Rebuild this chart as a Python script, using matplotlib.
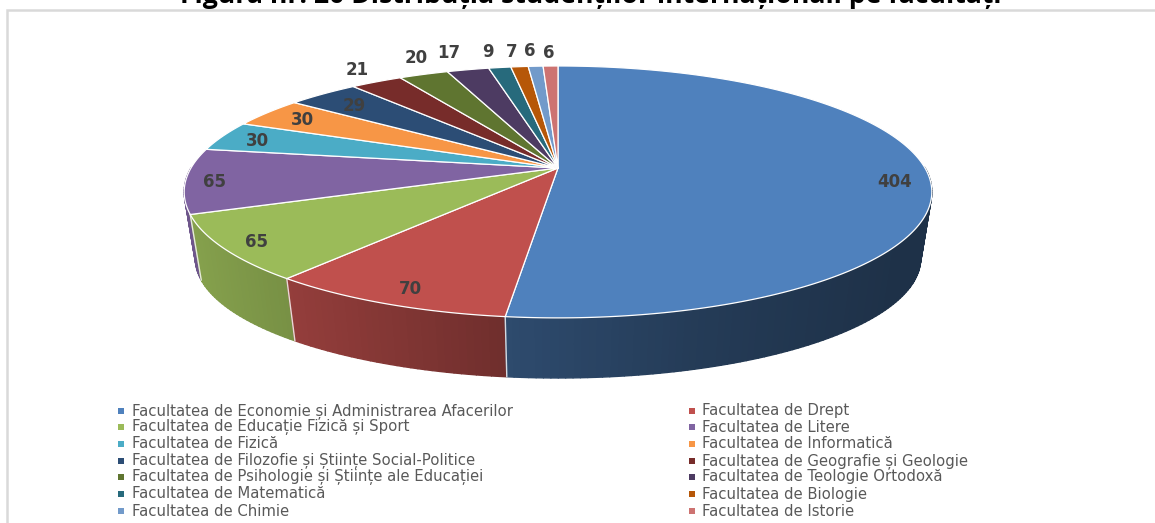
import numpy as np
import matplotlib
matplotlib.use("Agg")
import matplotlib.pyplot as plt
from matplotlib.collections import PolyCollection
from matplotlib.colors import to_rgb

faculties = ["Facultatea de Economie și Administrarea Afacerilor", "Facultatea de Drept",
             "Facultatea de Educație Fizică și Sport", "Facultatea de Litere",
             "Facultatea de Fizică", "Facultatea de Informatică",
             "Facultatea de Filozofie și Științe Social-Politice", "Facultatea de Geografie și Geologie",
             "Facultatea de Psihologie și Științe ale Educației", "Facultatea de Teologie Ortodoxă",
             "Facultatea de Matematică", "Facultatea de Biologie",
             "Facultatea de Chimie", "Facultatea de Istorie"]
students = [404, 70, 65, 65, 30, 30, 29, 21, 20, 17, 9, 7, 6, 6]
colors = ["#4F81BD", "#C0504D", "#9BBB59", "#8064A2", "#4BACC6", "#F79646", "#2C4D75",
          "#772C2A", "#5F7530", "#4D3B62", "#276A7C", "#B65708", "#729ACA", "#CD7371"]
label_x = [895, 410, 256, 214, 257, 302, 354, 357, 416, 449, 488, 512, 530, 549]
label_y = [182, 289, 242, 182, 141, 120, 106, 70, 58, 53, 52, 52, 51, 53]
title = "Figura nr. 20 Distribuția studenților internaționali pe facultăți"

W, H = 1155, 523


# circle to screen, perspective tilt so the centre sits above the middle of the ellipse
def project(theta, y0, ax_y, ax_x, c=0.19):
    u, v = np.sin(theta), np.cos(theta)
    d = 1 + c * v
    return 558 + ax_x * u / d, y0 - ax_y * v / d


def top(theta):
    return project(theta, 168, 121.4, 367)


def bottom(theta):
    return project(theta, 236, 115, 356)


fig = plt.figure(figsize=(W / 100, H / 100), dpi=100)
ax = fig.add_axes([0, 0, 1, 1])
ax.set_xlim(0, W)
ax.set_ylim(H, 0)
ax.axis("off")

# chart frame
ax.plot([7, 7, W], [H, 10, 10], color="#d9d9d9", lw=1.8, solid_joinstyle="miter")

edges = np.cumsum([0] + students) / sum(students) * 2 * np.pi

# side wall, darker towards the right, only the front half shows
quads, quad_colors, depth = [], [], []
for i, col in enumerate(colors):
    n = max(3, int((edges[i + 1] - edges[i]) * 60))
    t = np.linspace(edges[i], edges[i + 1], n)
    for a, b in zip(t[:-1], t[1:]):
        if np.cos(a) > 0 and np.cos(b) > 0:
            continue
        xa, ya = top(a)
        xb, yb = top(b)
        xc, yc = bottom(b)
        xd, yd = bottom(a)
        quads.append([(xa, ya), (xb, yb), (xc, yc), (xd, yd)])
        f = np.interp((xa + xb) / 2, [190, 300, 505, 700, 900], [0.86, 0.76, 0.58, 0.46, 0.38])
        quad_colors.append(tuple(np.array(to_rgb(col)) * f))
        depth.append(-np.cos(a))
order = np.argsort(depth)
ax.add_collection(PolyCollection([quads[k] for k in order], facecolors=[quad_colors[k] for k in order],
                                 edgecolors=[quad_colors[k] for k in order], linewidths=1.0))

for e in edges[1:4]:
    xa, ya = top(e)
    xb, yb = bottom(e)
    ax.plot([xa, xb], [ya, yb], color="white", lw=1.0, alpha=0.8)

# top face
for i, col in enumerate(colors):
    t = np.linspace(edges[i], edges[i + 1], max(3, int((edges[i + 1] - edges[i]) * 120)))
    x, y = top(t)
    ax.fill(np.r_[558, x], np.r_[168, y], facecolor=col, edgecolor="white", lw=0.9, joinstyle="round")

for v, x, y in zip(students, label_x, label_y):
    ax.text(x, y, str(v), ha="center", va="center", fontsize=12, fontweight="bold", color="#404040",
            family="DejaVu Sans")

# title is cut by the top of the picture
ax.text(591, 3, title, ha="center", va="baseline", fontsize=19.2, fontweight="bold", color="black",
        family="Open Sans")

# legend, two columns
rows = [411, 427, 444, 461, 477, 494, 511]
for i, name in enumerate(faculties):
    r = rows[i // 2]
    mx, tx = (121, 132) if i % 2 == 0 else (692, 702)
    ax.scatter([mx], [r], marker="s", s=14, color=colors[i], linewidths=0)
    ax.text(tx, r, name, ha="left", va="center", fontsize=10.7, color="#595959", family="DejaVu Sans")

fig.savefig("out.png", dpi=100)
